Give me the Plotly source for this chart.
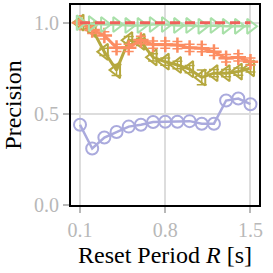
import plotly.graph_objects as go

x_vals = [0.1, 0.2, 0.3, 0.4, 0.5, 0.6, 0.7, 0.8, 0.9, 1.0, 1.1, 1.2, 1.3, 1.4, 1.5]

purple = [0.44, 0.31, 0.37, 0.40, 0.43, 0.44, 0.455, 0.457, 0.457, 0.46, 0.446, 0.446, 0.573, 0.584, 0.553]
olive = [1.0, 0.965, 0.84, 0.74, 0.904, 0.895, 0.81, 0.786, 0.768, 0.745, 0.70, 0.723, 0.723, 0.732, 0.75]
olive_err = [0.01, 0.02, 0.02, 0.03, 0.02, 0.02, 0.02, 0.02, 0.02, 0.02, 0.04, 0.02, 0.02, 0.02, 0.02]
orange = [1.0, 0.96, 0.93, 0.862, 0.862, 0.905, 0.88, 0.88, 0.877, 0.862, 0.86, 0.84, 0.805, 0.81, 0.786]
orange_err = [0.01, 0.02, 0.02, 0.02, 0.02, 0.02, 0.02, 0.02, 0.02, 0.02, 0.02, 0.02, 0.02, 0.02, 0.02]
green = [1.0, 0.995, 0.99, 0.99, 0.985, 0.985, 0.99, 0.99, 0.985, 0.985, 0.98, 0.985, 0.98, 0.98, 0.98]
red = [1.0] * 15

x_ticks = [0.1, 0.8, 1.5]
x_tick_labels = ["0.1", "0.8", "1.5"]
y_ticks = [0.0, 0.5, 1.0]
y_tick_labels = ["0.0", "0.5", "1.0"]

PURPLE = "#aaaadd"
OLIVE = "#b5a83e"
ORANGE = "#fc8d62"
GREEN = "#a8e0a8"
RED = "#f0605a"

fig = go.Figure()
fig.add_trace(go.Scatter(
    x=x_vals, y=purple, mode="lines+markers",
    line=dict(color=PURPLE, width=2.5),
    marker=dict(symbol="circle-open", size=12, color=PURPLE, line=dict(width=2, color=PURPLE)),
))
fig.add_trace(go.Scatter(
    x=x_vals, y=olive, mode="lines+markers",
    line=dict(color=OLIVE, width=3),
    marker=dict(symbol="triangle-left-open", size=14, color=OLIVE, line=dict(width=2, color=OLIVE)),
    error_y=dict(type="data", array=olive_err, color=OLIVE, thickness=1.5, width=5),
))
fig.add_trace(go.Scatter(
    x=x_vals, y=orange, mode="lines+markers",
    line=dict(color=ORANGE, width=3),
    marker=dict(symbol="cross-thin-open", size=11, color=ORANGE, line=dict(width=2.5, color=ORANGE)),
    error_y=dict(type="data", array=orange_err, color=ORANGE, thickness=1.5, width=5),
))
fig.add_trace(go.Scatter(
    x=x_vals, y=green, mode="lines+markers",
    line=dict(color=GREEN, width=2.5),
    marker=dict(symbol="triangle-right-open", size=13, color=GREEN, line=dict(width=2, color=GREEN)),
))
fig.add_trace(go.Scatter(
    x=x_vals, y=red, mode="lines",
    line=dict(color=RED, width=3, dash="10px,5px"),
))

font_family = "Liberation Serif"
fig.update_layout(
    width=273, height=273,
    margin=dict(l=71, r=14, t=3, b=68),
    paper_bgcolor="white", plot_bgcolor="white",
    showlegend=False,
    font=dict(family=font_family, color="black"),
)
fig.update_xaxes(
    range=[0.026, 1.57],
    tickvals=x_ticks, ticktext=x_tick_labels,
    tickfont=dict(size=20, color="#b8b8b8", family=font_family),
    showgrid=True, gridcolor="#dddddd", gridwidth=1.5,
    showline=True, linecolor="black", linewidth=2, mirror=True,
    ticks="outside", ticklen=6, tickcolor="#b8b8b8", tickwidth=1.5,
    zeroline=False,
    title=dict(text="Reset Period <i>R</i> [s]", font=dict(size=24, color="black", family=font_family), standoff=6),
)
fig.update_yaxes(
    range=[0.0, 1.097],
    tickvals=y_ticks, ticktext=y_tick_labels,
    tickfont=dict(size=20, color="#b8b8b8", family=font_family),
    showgrid=True, gridcolor="#dddddd", gridwidth=1.5,
    showline=True, linecolor="black", linewidth=2, mirror=True,
    ticks="outside", ticklen=6, tickcolor="#b8b8b8", tickwidth=1.5,
    zeroline=False,
    title=dict(text="Precision", font=dict(size=24, color="black", family=font_family), standoff=9),
)
fig.write_html("out.html", config={"displayModeBar": False},
               post_script="document.body.style.margin='0';")
